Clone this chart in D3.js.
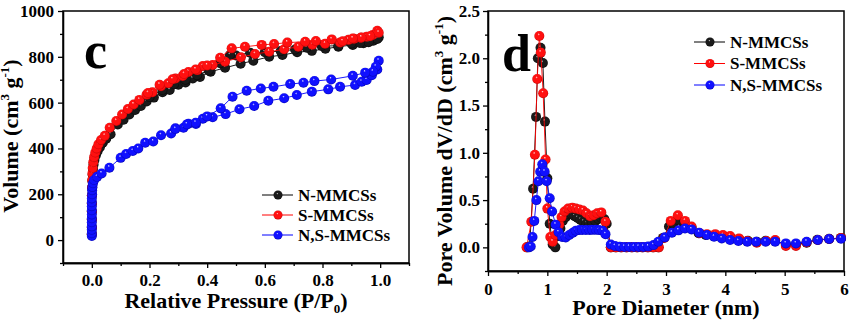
<!DOCTYPE html>
<html>
<head>
<meta charset="utf-8">
<script src="https://cdn.jsdelivr.net/npm/d3@7"></script>
<style>
  body { margin: 0; background: #fff; }
  svg text { font-family: "Liberation Serif", "Times New Roman", Tinos, "DejaVu Serif", serif !important; font-weight: bold; }
  .axis path, .axis line { stroke: #000; stroke-width: 1.3; }
  .axis text { font-size: 17px; fill: #000; }
</style>
</head>
<body>
<svg id="chart" width="866" height="328"></svg>
<script>
// ---- N2 isotherms, [P/P0, volume] (adsorption then desorption) ----
const nIsoAds = [[0.000,25],[0.000,55],[0.000,90],[0.000,125],[0.000,160],[0.000,195],[0.001,228],[0.002,258],[0.003,285],[0.004,310],[0.006,330],[0.009,350],[0.014,370],[0.020,388],[0.028,405],[0.038,425],[0.050,442],[0.065,462],[0.090,505],[0.110,525],[0.130,548],[0.150,568],[0.170,585],[0.190,605],[0.215,622],[0.245,645],[0.270,655],[0.300,678],[0.325,688],[0.350,705],[0.375,712],[0.412,735],[0.462,752],[0.516,770],[0.560,783],[0.615,800],[0.661,808],[0.712,820],[0.763,826],[0.810,835],[0.855,844],[0.905,852],[0.942,859],[0.976,870],[0.995,885]];
const nIsoDes = [[0.990,878],[0.960,864],[0.930,860],[0.900,858],[0.855,848],[0.797,847],[0.745,840],[0.705,832],[0.655,825],[0.600,820],[0.549,818],[0.500,806],[0.479,808],[0.445,772],[0.405,740],[0.365,720],[0.325,700],[0.285,680],[0.245,655],[0.200,625]];

const sIsoAds = [[0.000,25],[0.000,55],[0.000,90],[0.000,125],[0.000,160],[0.000,195],[0.001,230],[0.001,262],[0.002,290],[0.003,315],[0.005,340],[0.008,362],[0.012,382],[0.017,400],[0.023,418],[0.032,437],[0.045,455],[0.062,490],[0.085,520],[0.105,548],[0.125,572],[0.145,592],[0.165,612],[0.190,635],[0.210,645],[0.240,672],[0.265,685],[0.290,705],[0.315,716],[0.335,734],[0.366,742],[0.385,760],[0.419,764],[0.462,779],[0.517,798],[0.566,812],[0.615,822],[0.667,833],[0.716,844],[0.765,853],[0.809,857],[0.861,863],[0.890,874],[0.910,879],[0.933,883],[0.953,888],[0.974,895],[0.990,914]];
const sIsoDes = [[0.995,905],[0.965,890],[0.935,884],[0.905,880],[0.870,868],[0.832,876],[0.777,869],[0.740,866],[0.678,862],[0.632,856],[0.589,852],[0.531,844],[0.485,837],[0.445,796],[0.400,762],[0.360,745],[0.320,725],[0.280,702],[0.235,678],[0.195,642]];

const nsIsoAds = [[0.000,18],[0.000,30],[0.000,45],[0.000,60],[0.000,78],[0.000,95],[0.000,112],[0.000,130],[0.000,148],[0.000,165],[0.000,182],[0.001,200],[0.001,218],[0.002,232],[0.004,248],[0.008,262],[0.018,276],[0.034,291],[0.061,316],[0.100,359],[0.119,376],[0.142,389],[0.161,400],[0.185,425],[0.213,430],[0.240,458],[0.275,465],[0.290,488],[0.318,490],[0.335,508],[0.361,507],[0.385,530],[0.419,536],[0.464,550],[0.512,571],[0.563,585],[0.612,608],[0.667,619],[0.711,633],[0.763,648],[0.820,658],[0.861,669],[0.913,677],[0.936,691],[0.953,699],[0.971,720],[0.990,745],[0.995,783]];
const nsIsoDes = [[0.985,757],[0.975,735],[0.948,731],[0.905,717],[0.830,701],[0.772,694],[0.734,687],[0.688,681],[0.630,669],[0.586,662],[0.537,652],[0.488,626],[0.447,575],[0.400,540],[0.360,512],[0.330,505],[0.290,485]];

// ---- pore size distributions, [diameter nm, dV/dD] ----
const nPsd = [[0.66,0.0],[0.70,0.01],[0.76,0.62],[0.81,1.38],[0.84,2.0],[0.885,2.11],[0.925,1.95],[0.96,1.33],[1.0,0.73],[1.04,0.25],[1.09,0.03],[1.135,0.0],[1.18,0.12],[1.22,0.2],[1.26,0.28],[1.31,0.32],[1.36,0.35],[1.41,0.35],[1.46,0.33],[1.51,0.31],[1.56,0.29],[1.61,0.27],[1.66,0.25],[1.71,0.24],[1.76,0.26],[1.81,0.28],[1.86,0.3],[1.91,0.31],[1.96,0.3],[2.0,0.25],[2.07,0.0],[2.15,0.0],[2.24,0.0],[2.33,0.0],[2.42,0.0],[2.51,0.0],[2.6,0.0],[2.69,0.0],[2.78,0.0],[2.87,0.0],[2.95,0.1],[3.05,0.22],[3.12,0.25],[3.2,0.29],[3.3,0.25],[3.43,0.21],[3.55,0.15],[3.67,0.13],[3.81,0.12],[3.95,0.11],[4.09,0.1],[4.24,0.08],[4.38,0.07],[4.53,0.06],[4.68,0.07],[4.84,0.07],[5.02,0.03],[5.19,0.03],[5.37,0.05],[5.55,0.08],[5.75,0.09],[5.95,0.1]];
const sPsd = [[0.65,0.0],[0.73,0.27],[0.79,0.98],[0.83,1.78],[0.865,2.235],[0.89,2.06],[0.93,1.63],[0.97,0.93],[1.0,0.41],[1.05,0.11],[1.09,0.06],[1.14,0.13],[1.2,0.24],[1.24,0.32],[1.29,0.38],[1.35,0.41],[1.42,0.42],[1.48,0.41],[1.54,0.4],[1.6,0.39],[1.66,0.36],[1.72,0.33],[1.78,0.34],[1.84,0.36],[1.91,0.37],[1.98,0.27],[2.07,0.0],[2.16,0.0],[2.25,0.0],[2.34,0.0],[2.43,0.0],[2.52,0.0],[2.61,0.0],[2.7,0.0],[2.79,0.0],[2.88,0.0],[2.97,0.1],[3.08,0.28],[3.2,0.34],[3.32,0.28],[3.43,0.22],[3.57,0.15],[3.69,0.14],[3.83,0.14],[3.96,0.13],[4.08,0.12],[4.23,0.095],[4.37,0.067],[4.53,0.05],[4.69,0.067],[4.84,0.077],[5.02,0.014],[5.19,0.014],[5.37,0.053],[5.56,0.077],[5.75,0.088],[5.95,0.1]];
const nsPsd = [[0.69,0.0],[0.72,0.01],[0.75,0.11],[0.78,0.28],[0.815,0.5],[0.85,0.7],[0.88,0.8],[0.915,0.88],[0.955,0.8],[0.99,0.7],[1.04,0.52],[1.08,0.38],[1.14,0.24],[1.19,0.16],[1.25,0.11],[1.31,0.105],[1.37,0.13],[1.43,0.155],[1.48,0.175],[1.54,0.183],[1.59,0.183],[1.65,0.183],[1.71,0.183],[1.76,0.185],[1.82,0.185],[1.87,0.183],[1.93,0.175],[1.98,0.14],[2.07,0.03],[2.14,0.014],[2.22,0.007],[2.3,0.005],[2.38,0.005],[2.46,0.005],[2.54,0.005],[2.62,0.005],[2.7,0.008],[2.79,0.024],[2.87,0.06],[2.98,0.106],[3.1,0.155],[3.21,0.18],[3.32,0.2],[3.43,0.19],[3.56,0.155],[3.69,0.13],[3.81,0.112],[3.94,0.095],[4.08,0.077],[4.22,0.067],[4.37,0.06],[4.52,0.06],[4.68,0.06],[4.84,0.06],[5.02,0.042],[5.19,0.042],[5.37,0.06],[5.56,0.077],[5.75,0.088],[5.95,0.092]];

const seriesNames = ["N-MMCSs", "S-MMCSs", "N,S-MMCSs"];
const seriesColors = ["#000000", "#ff0000", "#0000ff"];

const svg = d3.select("#chart");
const defs = svg.append("defs");

// shiny ball markers
function ballGradient(id, light, mid, dark) {
  const g = defs.append("radialGradient")
    .attr("id", id)
    .attr("cx", "50%").attr("cy", "50%").attr("r", "55%")
    .attr("fx", "42%").attr("fy", "30%");
  g.append("stop").attr("offset", "0%").attr("stop-color", light);
  g.append("stop").attr("offset", "22%").attr("stop-color", mid);
  g.append("stop").attr("offset", "75%").attr("stop-color", mid);
  g.append("stop").attr("offset", "100%").attr("stop-color", dark);
}
ballGradient("ball0", "#d8d8d8", "#1a1a1a", "#000");
ballGradient("ball1", "#ffe0e0", "#ff1010", "#b00000");
ballGradient("ball2", "#e0e0ff", "#1010ff", "#0000a0");

function drawPanel(cfg) {
  const x = d3.scaleLinear().domain(cfg.xDomain).range([cfg.left, cfg.right]);
  const y = d3.scaleLinear().domain(cfg.yDomain).range([cfg.bottom, cfg.top]);
  const g = svg.append("g");

  // minor ticks
  g.append("g").attr("class", "axis")
    .attr("transform", `translate(0,${cfg.bottom})`)
    .call(d3.axisBottom(x).tickValues(cfg.xMinor).tickSize(3).tickSizeOuter(0).tickFormat(""));
  g.append("g").attr("class", "axis")
    .attr("transform", `translate(${cfg.left},0)`)
    .call(d3.axisLeft(y).tickValues(cfg.yMinor).tickSize(3).tickSizeOuter(0).tickFormat(""));

  // major ticks with labels
  g.append("g").attr("class", "axis")
    .attr("transform", `translate(0,${cfg.bottom})`)
    .call(d3.axisBottom(x).tickValues(cfg.xTicks).tickSize(5).tickSizeOuter(0).tickPadding(cfg.xPad).tickFormat(cfg.xFormat));
  g.append("g").attr("class", "axis")
    .attr("transform", `translate(${cfg.left},0)`)
    .call(d3.axisLeft(y).tickValues(cfg.yTicks).tickSize(5).tickSizeOuter(0).tickPadding(cfg.yPad).tickFormat(cfg.yFormat));

  g.append("rect")
    .attr("x", cfg.left).attr("y", cfg.top)
    .attr("width", cfg.right - cfg.left).attr("height", cfg.bottom - cfg.top)
    .attr("fill", "none").attr("stroke", "#000").attr("stroke-width", 1.5);

  const line = d3.line().x(d => x(d[0])).y(d => y(d[1]));
  cfg.series.forEach((data, i) => {
    g.append("path")
      .attr("d", line(data))
      .attr("fill", "none")
      .attr("stroke", seriesColors[i])
      .attr("stroke-width", 0.9);
    g.append("g").selectAll("circle")
      .data(data)
      .enter().append("circle")
      .attr("cx", d => x(d[0]))
      .attr("cy", d => y(d[1]))
      .attr("r", 5)
      .attr("fill", `url(#ball${i})`);
  });

  // panel letter
  g.append("text")
    .attr("x", cfg.letterX).attr("y", cfg.letterY)
    .attr("font-size", 52)
    .text(cfg.letter);

  // legend
  seriesNames.forEach((name, i) => {
    const ly = cfg.legendY + i * cfg.legendStep;
    g.append("line")
      .attr("x1", cfg.legendX).attr("x2", cfg.legendX + 31)
      .attr("y1", ly).attr("y2", ly)
      .attr("stroke", seriesColors[i]).attr("stroke-width", 1);
    g.append("circle")
      .attr("cx", cfg.legendX + 16).attr("cy", ly).attr("r", 4.5)
      .attr("fill", `url(#ball${i})`);
    g.append("text")
      .attr("x", cfg.legendX + 36).attr("y", ly)
      .attr("dy", "0.35em")
      .attr("font-size", 17)
      .text(name);
  });

  return g;
}

const left = drawPanel({
  left: 63, right: 409, top: 11, bottom: 263,
  xDomain: [-0.1, 1.1], yDomain: [-100, 1000],
  xTicks: [0, 0.2, 0.4, 0.6, 0.8, 1.0], xMinor: [-0.1, 0.1, 0.3, 0.5, 0.7, 0.9, 1.1],
  yTicks: [0, 200, 400, 600, 800, 1000], yMinor: [-100, 100, 300, 500, 700, 900],
  xFormat: d3.format(".1f"), yFormat: d3.format("d"), xPad: 6, yPad: 4,
  series: [nIsoAds.concat(nIsoDes), sIsoAds.concat(sIsoDes), nsIsoAds.concat(nsIsoDes)],
  letter: "c", letterX: 84, letterY: 68,
  legendX: 262, legendY: 195, legendStep: 20
});

const right = drawPanel({
  left: 488, right: 844, top: 11, bottom: 271,
  xDomain: [0, 6], yDomain: [-0.25, 2.5],
  xTicks: [0, 1, 2, 3, 4, 5, 6], xMinor: [0.5, 1.5, 2.5, 3.5, 4.5, 5.5],
  yTicks: [0, 0.5, 1.0, 1.5, 2.0, 2.5], yMinor: [-0.25, 0.25, 0.75, 1.25, 1.75, 2.25],
  xFormat: d3.format("d"), yFormat: d3.format(".1f"), xPad: 7, yPad: 3,
  series: [nPsd, sPsd, nsPsd],
  letter: "d", letterX: 502, letterY: 71,
  legendX: 694, legendY: 42, legendStep: 21.5
});

// axis titles
const volTitle = svg.append("text")
  .attr("transform", "translate(18,136) rotate(-90)")
  .attr("text-anchor", "middle").attr("font-size", 22);
volTitle.append("tspan").text("Volume (cm");
volTitle.append("tspan").attr("font-size", 13).attr("dy", -9).text("3");
volTitle.append("tspan").attr("dy", 9).text(" g");
volTitle.append("tspan").attr("font-size", 13).attr("dy", -9).text("-1");
volTitle.append("tspan").attr("dy", 9).text(")");

const presTitle = svg.append("text")
  .attr("x", 236).attr("y", 308)
  .attr("text-anchor", "middle").attr("font-size", 22);
presTitle.append("tspan").text("Relative Pressure (P/P");
presTitle.append("tspan").attr("font-size", 13).attr("dy", 5).text("0");
presTitle.append("tspan").attr("dy", -5).text(")");

const poreTitle = svg.append("text")
  .attr("transform", "translate(452,151) rotate(-90)")
  .attr("text-anchor", "middle").attr("font-size", 22);
poreTitle.append("tspan").text("Pore Volume dV/dD (cm");
poreTitle.append("tspan").attr("font-size", 13).attr("dy", -9).text("3");
poreTitle.append("tspan").attr("dy", 9).text(" g");
poreTitle.append("tspan").attr("font-size", 13).attr("dy", -9).text("-1");
poreTitle.append("tspan").attr("dy", 9).text(")");

svg.append("text")
  .attr("x", 666).attr("y", 315)
  .attr("text-anchor", "middle").attr("font-size", 22)
  .text("Pore Diameter (nm)");
</script>
</body>
</html>
